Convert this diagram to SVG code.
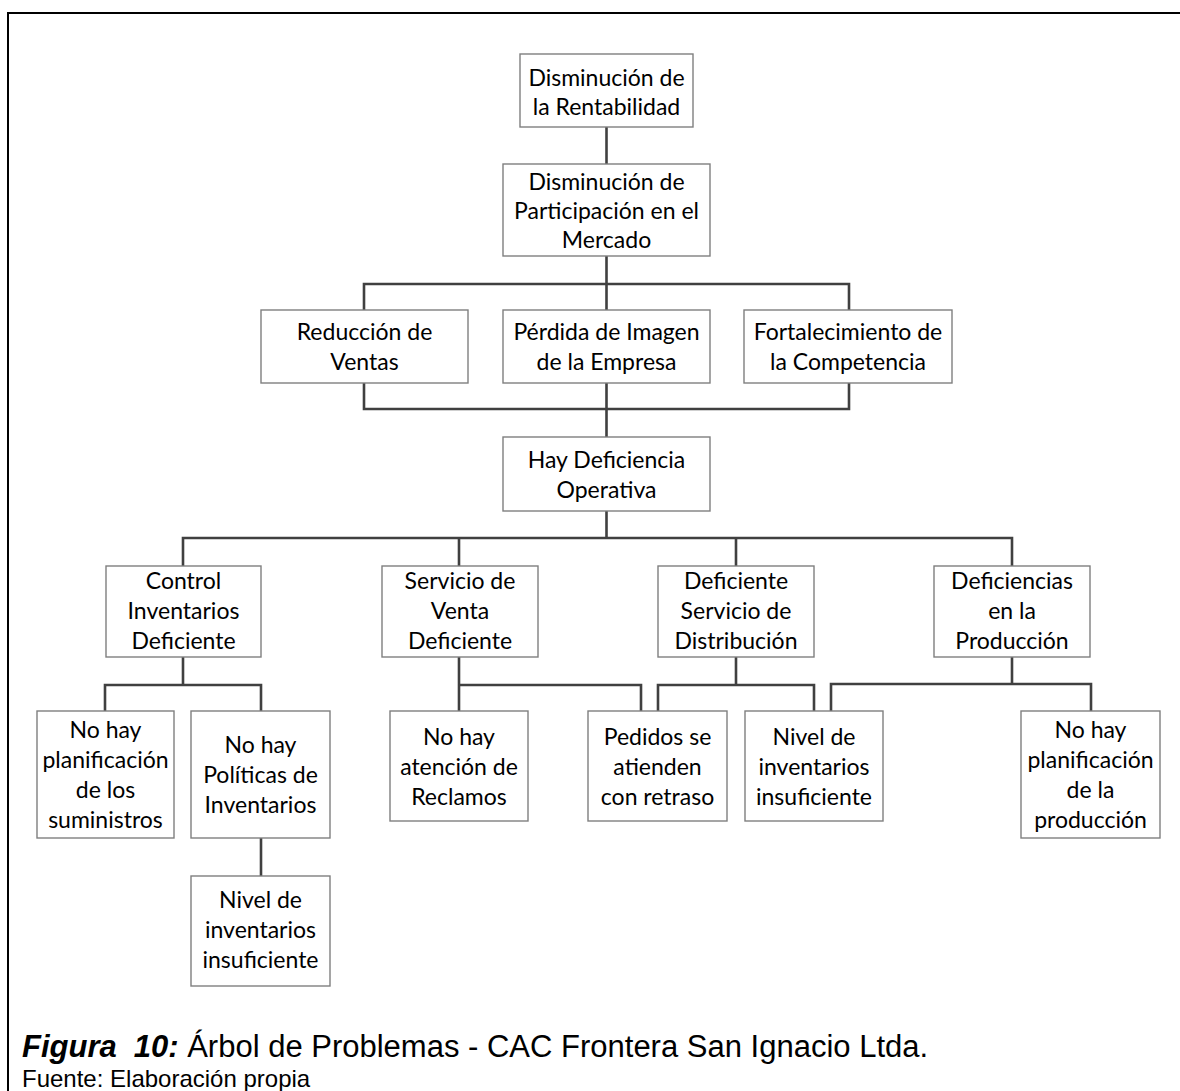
<svg xmlns="http://www.w3.org/2000/svg" width="1180" height="1091" viewBox="0 0 1180 1091">
  <style>
    .box rect { fill: #ffffff; stroke: #7f7f7f; stroke-width: 1.4; }
    .box text { font-family: Lato, "Open Sans", sans-serif; font-size: 23px; fill: #000000; text-anchor: middle; }
    #connectors path { fill: none; stroke: #404040; stroke-width: 2.6; }
    .frame { fill: none; stroke: #000000; stroke-width: 2; }
    .cap { font-family: "Liberation Sans", Arial, sans-serif; fill: #000000; }
  </style>

  <rect width="1180" height="1091" fill="#ffffff"/>
  <path class="frame" d="M1182 13 H8 V1093"/>

  <!-- connectors -->
  <g id="connectors">
    <path d="M606.5 127 V164"/>
    <path d="M606.5 256 V284 M364 310 V284 H849 V310 M606.5 284 V310"/>
    <path d="M364 383 V409 H849 V383 M606.5 383 V437"/>
    <path d="M606.5 511 V538 M183 566 V538 H1012 V566 M459 538 V566 M736 538 V566"/>
    <path d="M183 657 V685 M105 711 V685 H261 V711"/>
    <path d="M261 838 V876"/>
    <path d="M459 657 V711 M459 685 H641 V711"/>
    <path d="M736 657 V685 M658 711 V685 H814 V711"/>
    <path d="M1012 657 V684 M831 711 V684 H1091 V711"/>
  </g>

  <!-- level 1 -->
  <g id="n-rentabilidad" class="box">
    <rect x="520" y="54" width="173" height="73"/>
    <text x="606.5" y="86">Disminución de</text>
    <text x="606.5" y="115">la Rentabilidad</text>
  </g>
  <g id="n-participacion" class="box">
    <rect x="503" y="164" width="207" height="92"/>
    <text x="606.5" y="190">Disminución de</text>
    <text x="606.5" y="219">Participación en el</text>
    <text x="606.5" y="248">Mercado</text>
  </g>

  <!-- level 3 -->
  <g id="n-ventas" class="box">
    <rect x="261" y="310" width="207" height="73"/>
    <text x="364.5" y="340">Reducción de</text>
    <text x="364.5" y="370">Ventas</text>
  </g>
  <g id="n-imagen" class="box">
    <rect x="503" y="310" width="207" height="73"/>
    <text x="606.5" y="340">Pérdida de Imagen</text>
    <text x="606.5" y="370">de la Empresa</text>
  </g>
  <g id="n-competencia" class="box">
    <rect x="744" y="310" width="208" height="73"/>
    <text x="848" y="340">Fortalecimiento de</text>
    <text x="848" y="370">la Competencia</text>
  </g>

  <!-- level 4 -->
  <g id="n-operativa" class="box">
    <rect x="503" y="437" width="207" height="74"/>
    <text x="606.5" y="468">Hay Deficiencia</text>
    <text x="606.5" y="498">Operativa</text>
  </g>

  <!-- level 5 -->
  <g id="n-inventarios" class="box">
    <rect x="106" y="566" width="155" height="91"/>
    <text x="183.5" y="589">Control</text>
    <text x="183.5" y="619">Inventarios</text>
    <text x="183.5" y="649">Deficiente</text>
  </g>
  <g id="n-venta" class="box">
    <rect x="382" y="566" width="156" height="91"/>
    <text x="460" y="589">Servicio de</text>
    <text x="460" y="619">Venta</text>
    <text x="460" y="649">Deficiente</text>
  </g>
  <g id="n-distribucion" class="box">
    <rect x="658" y="566" width="156" height="91"/>
    <text x="736" y="589">Deficiente</text>
    <text x="736" y="619">Servicio de</text>
    <text x="736" y="649">Distribución</text>
  </g>
  <g id="n-produccion" class="box">
    <rect x="934" y="566" width="156" height="91"/>
    <text x="1012" y="589">Deficiencias</text>
    <text x="1012" y="619">en la</text>
    <text x="1012" y="649">Producción</text>
  </g>

  <!-- level 6 -->
  <g id="n-suministros" class="box">
    <rect x="37" y="711" width="137" height="127"/>
    <text x="105.5" y="738">No hay</text>
    <text x="105.5" y="768">planificación</text>
    <text x="105.5" y="798">de los</text>
    <text x="105.5" y="828">suministros</text>
  </g>
  <g id="n-politicas" class="box">
    <rect x="191" y="711" width="139" height="127"/>
    <text x="260.5" y="753">No hay</text>
    <text x="260.5" y="783">Políticas de</text>
    <text x="260.5" y="813">Inventarios</text>
  </g>
  <g id="n-reclamos" class="box">
    <rect x="390" y="711" width="138" height="110"/>
    <text x="459" y="745">No hay</text>
    <text x="459" y="775">atención de</text>
    <text x="459" y="805">Reclamos</text>
  </g>
  <g id="n-retraso" class="box">
    <rect x="588" y="711" width="139" height="110"/>
    <text x="657.5" y="745">Pedidos se</text>
    <text x="657.5" y="775">atienden</text>
    <text x="657.5" y="805">con retraso</text>
  </g>
  <g id="n-nivel-dist" class="box">
    <rect x="745" y="711" width="138" height="110"/>
    <text x="814" y="745">Nivel de</text>
    <text x="814" y="775">inventarios</text>
    <text x="814" y="805">insuficiente</text>
  </g>
  <g id="n-planif-prod" class="box">
    <rect x="1021" y="711" width="139" height="127"/>
    <text x="1090.5" y="738">No hay</text>
    <text x="1090.5" y="768">planificación</text>
    <text x="1090.5" y="798">de la</text>
    <text x="1090.5" y="828">producción</text>
  </g>

  <!-- level 7 -->
  <g id="n-nivel-inv" class="box">
    <rect x="191" y="876" width="139" height="110"/>
    <text x="260.5" y="908">Nivel de</text>
    <text x="260.5" y="938">inventarios</text>
    <text x="260.5" y="968">insuficiente</text>
  </g>

  <!-- caption -->
  <text class="cap" x="22" y="1057" font-size="31"><tspan font-weight="bold" font-style="italic">Figura</tspan><tspan font-weight="bold" font-style="italic" dx="17">10:</tspan> Árbol de Problemas - CAC Frontera San Ignacio Ltda.</text>
  <text class="cap" x="22" y="1087" font-size="24">Fuente: Elaboración propia</text>
</svg>
